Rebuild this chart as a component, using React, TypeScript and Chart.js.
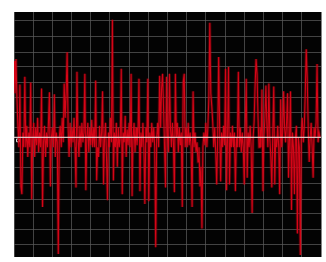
import React, { useEffect, useRef } from "react";
import { Chart, registerables } from "chart.js";

Chart.register(...registerables);

// signal samples (one per horizontal step), centre line = 0
const signal: number[] = [
  78, 45, 80, 40, 10, -10, 54, -50, -58, 5, -10, 62, -10, 12, -20, 5, -10, 56, -63, 0,
  15, -20, 10, -8, 20, -15, 5, -10, 50, -71, -5, 12, -20, 5, -10, 15, 46, -50, 0, 10,
  -10, 44, -20, 5, -5, -119, 0, 12, -10, 20, -5, 55, 20, 45, 87, 10, -20, 15, -10, 10,
  -5, 20, -10, -51, 67, 0, -20, 12, -10, 15, -5, 5, 65, -54, 0, 15, -15, 10, -8, 18,
  -10, 10, -10, 58, -44, -10, -20, 12, -10, 5, 47, -48, 0, 15, -20, -64, 5, -10, 20, -5,
  120, -44, 5, -10, 15, -30, 10, -10, 0, 70, -58, 5, -5, 22, -20, 8, -8, 15, -10, 65,
  -60, 0, 15, -15, 10, -8, 5, 60, -55, 5, -10, 15, -10, -68, 10, -5, 60, -65, 5, -10,
  15, -5, 10, -10, -112, 0, 15, -10, 63, 10, 50, 65, 30, -10, -51, 62, 0, -15, 65, 10,
  -10, 15, -5, -56, 65, 0, 15, -15, 10, -8, 5, -71, 57, 65, -10, 10, -10, 15, -8, 5,
  -10, -71, 47, -10, 5, -15, -5, -25, -10, -50, -30, -93, -10, 5, -8, 15, -10, 10, 40, 117,
  45, 32, 15, -10, 10, -15, -48, 0, 82, 10, -45, 5, -10, 12, -8, 70, -54, 0, 72, -48,
  5, -10, 12, -10, 5, -55, 0, -10, 67, -10, 10, -15, 5, -10, -48, 10, 60, -41, 5, -10,
  12, -10, -77, 0, 15, 52, 80, 65, 20, -10, 10, -10, 49, -55, 0, 20, 53, 12, -10, 55,
  0, -20, -51, 5, 52, -48, 0, -10, 12, -10, -58, 39, -10, 5, 47, 10, -5, 15, 45, -41,
  0, 47, -74, 5, -10, -58, 0, 12, -98, 0, -10, -120, 5, 20, -5, 10, 45, 90, 60, 10,
  -25, 0, 15, -10, -41, 10, 0, 15, 75, -5, 5, 0,
];

// grid positions
const xGridValues: number[] = [
  0, 19.5, 39, 58.5, 78, 97.5, 117, 136.5, 156, 175.5, 195, 214.5, 234, 253.5, 273, 292.5, 312,
];
const yGridValues: number[] = [
  119, 103, 87, 72, 56, 41, 25, 10, -15, -31, -47, -63, -78, -94, -109,
];
const centreValue = 0;
const markerPoint = { x: 4, y: -3 };

export default function App() {
  const ref = useRef<HTMLCanvasElement | null>(null);

  useEffect(() => {
    if (!ref.current) return;
    const pts = signal.map((v, i) => ({ x: i, y: v }));

    const bgPlugin = {
      id: "bg",
      beforeDraw(chart: any) {
        const { ctx, chartArea } = chart;
        ctx.save();
        ctx.fillStyle = "#030303";
        ctx.fillRect(chartArea.left, chartArea.top, chartArea.right - chartArea.left, chartArea.bottom - chartArea.top);
        ctx.restore();
      },
      afterDatasetsDraw(chart: any) {
        const { ctx, chartArea } = chart;
        const y = chart.scales.y.getPixelForValue(centreValue);
        ctx.save();
        ctx.strokeStyle = "rgba(235,215,215,0.9)";
        ctx.lineWidth = 1.2;
        ctx.beginPath();
        ctx.moveTo(chartArea.left, y);
        ctx.lineTo(chartArea.right, y);
        ctx.stroke();
        ctx.restore();
      },
    };

    const chart = new Chart(ref.current, {
      type: "line",
      data: {
        datasets: [
          {
            data: pts,
            borderColor: "rgba(190,0,15,0.35)",
            borderWidth: 3,
            pointRadius: 0,
            tension: 0,
          },
          {
            data: pts,
            borderColor: "#e2081c",
            borderWidth: 1.1,
            pointRadius: 0,
            tension: 0,
          },
          {
            type: "scatter",
            data: [markerPoint],
            pointStyle: "rect",
            pointRadius: 2,
            borderColor: "#dddddd",
            backgroundColor: "#111111",
            borderWidth: 1,
          } as any,
        ],
      },
      options: {
        animation: false,
        responsive: true,
        maintainAspectRatio: false,
        layout: { padding: { left: 14, top: 12, right: 0, bottom: 0 } },
        plugins: { legend: { display: false }, tooltip: { enabled: false } },
        scales: {
          x: {
            type: "linear",
            min: 0,
            max: 312,
            afterBuildTicks: (s: any) => {
              s.ticks = xGridValues.map((v) => ({ value: v }));
            },
            ticks: { display: false },
            grid: { color: "rgba(90,90,90,0.75)", lineWidth: 1, drawTicks: false },
            border: { display: false },
          },
          y: {
            type: "linear",
            min: -122,
            max: 128,
            afterBuildTicks: (s: any) => {
              s.ticks = yGridValues.map((v) => ({ value: v }));
            },
            ticks: { display: false },
            grid: { color: "rgba(90,90,90,0.75)", lineWidth: 1, drawTicks: false },
            border: { display: false },
          },
        },
      },
      plugins: [bgPlugin],
    });
    return () => chart.destroy();
  }, []);

  return (
    <div style={{ position: "fixed", left: 0, top: 0, width: 326, height: 262, background: "#fff" }}>
      <canvas ref={ref} style={{ filter: "blur(0.4px)" }} />
    </div>
  );
}
